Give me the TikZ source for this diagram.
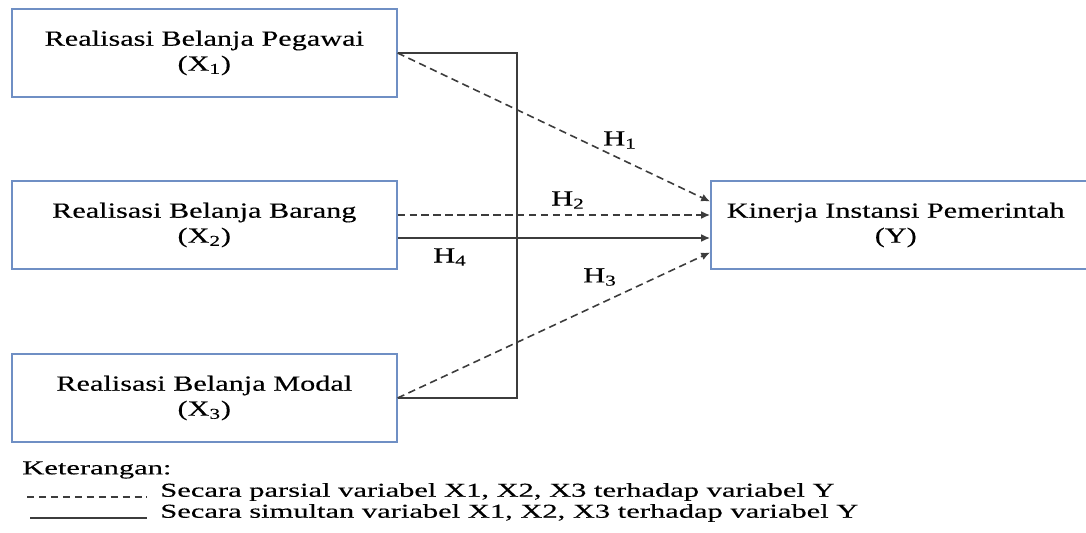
\documentclass[tikz,border=0pt]{standalone}
\usepackage{fontspec}
\setmainfont{Liberation Serif}
\newfontfamily\boxfont{Liberation Serif}[FakeStretch=1.4, FakeBold=0.3]
\newfontfamily\legfont{Liberation Serif}[FakeStretch=1.55, FakeBold=0.3]
\usetikzlibrary{calc, positioning, arrows.meta}
\definecolor{boxblue}{RGB}{111,143,196}
\definecolor{linegray}{RGB}{60,60,60}

\begin{document}
\begin{tikzpicture}[
        font=\boxfont\fontsize{12.3}{14.2}\selectfont,
        varbox/.style={draw=boxblue, line width=0.9pt, align=center, minimum width=7.7cm, minimum height=1.76cm, inner sep=0pt},
        simline/.style={draw=linegray, line width=0.9pt},
        parline/.style={draw=linegray, line width=0.9pt, dash pattern=on 4.2pt off 2.6pt},
        tip/.style={-{Latex[length=5pt, width=4.5pt]}}
    ]
    \useasboundingbox (0, 0) rectangle (21.72, 10.64);

    % Variabel bebas
    \node[varbox, anchor=west] (x1) at (0.22, 9.58) {Realisasi Belanja Pegawai\\(X\textsubscript{1})};
    \node[varbox, anchor=west] (x2) at (0.22, 6.14) {Realisasi Belanja Barang\\(X\textsubscript{2})};
    \node[varbox, anchor=west] (x3) at (0.22, 2.68) {Realisasi Belanja Modal\\(X\textsubscript{3})};

    % Variabel terikat
    \node[varbox, anchor=west, minimum width=8cm] (y) at (14.2, 6.14) {\hspace*{-0.6cm}Kinerja Instansi Pemerintah\\\hspace*{-0.6cm}(Y)};

    % Simultan
    \coordinate (bend) at (10.34, 0);
    \draw[simline] (x1.east) -- (x1.east -| bend) -- (x3.east -| bend) -- (x3.east);
    \draw[simline, tip] ([yshift=-0.26cm]x2.east) -- ([yshift=-0.26cm]y.west);

    % Parsial
    \draw[parline, tip] (x1.east) -- ([yshift=0.47cm]y.west);
    \draw[parline, tip] ([yshift=0.2cm]x2.east) -- ([yshift=0.2cm]y.west);
    \draw[parline, tip] (x3.east) -- ([yshift=-0.55cm]y.west);

    % Hipotesis
    \node (h1) at (12.4, 7.84) {H\textsubscript{1}};
    \node (h2) at (11.36, 6.64) {H\textsubscript{2}};
    \node (h3) at (12.0, 5.1) {H\textsubscript{3}};
    \node (h4) at (9.0, 5.5) {H\textsubscript{4}};

    % Keterangan
    \node[anchor=west, inner sep=0pt, font=\legfont\fontsize{11.2}{13}\selectfont] (ket) at (0.44, 1.24) {Keterangan:};
    \node[anchor=west, inner sep=0pt, font=\legfont\fontsize{11.2}{13}\selectfont] (legpar) at (3.2, 0.8) {Secara parsial variabel X1, X2, X3 terhadap variabel Y};
    \node[anchor=west, inner sep=0pt, font=\legfont\fontsize{11.2}{13}\selectfont] (legsim) at (3.2, 0.38) {Secara simultan variabel X1, X2, X3 terhadap variabel Y};
    \coordinate (parstart) at (0.54, 0.7);
    \coordinate (simstart) at (0.6, 0.28);
    \draw[parline] (parstart) -- (parstart -| {$(legpar.west)+(-0.26,0)$});
    \draw[simline] (simstart) -- (simstart -| {$(legsim.west)+(-0.26,0)$});
\end{tikzpicture}
\end{document}
